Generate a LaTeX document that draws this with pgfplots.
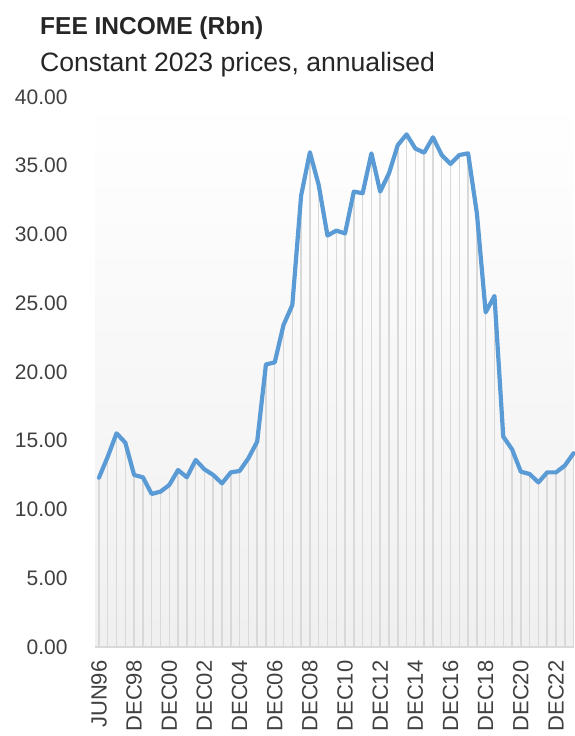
\documentclass[border=0pt]{standalone}
\usepackage{pgfplots}
\pgfplotsset{compat=1.18}
\usepackage{fontspec}
\setmainfont{Liberation Sans}
\definecolor{linecol}{HTML}{5B9BD5}
\definecolor{dropcol}{HTML}{D9D9D9}
\definecolor{txt}{HTML}{404040}
\definecolor{ttl}{HTML}{262626}
\pgfplotstableread{
i v
0 12.31
1 13.84
2 15.54
3 14.86
4 12.51
5 12.34
6 11.13
7 11.30
8 11.78
9 12.87
10 12.34
11 13.60
12 12.92
13 12.51
14 11.90
15 12.70
16 12.80
17 13.72
18 14.93
19 20.55
20 20.70
21 23.42
22 24.87
23 32.82
24 35.98
25 33.60
26 29.92
27 30.28
28 30.08
29 33.12
30 33.00
31 35.90
32 33.12
33 34.45
34 36.50
35 37.28
36 36.25
37 35.95
38 37.07
39 35.78
40 35.13
41 35.78
42 35.90
43 31.54
44 24.34
45 25.53
46 15.30
47 14.38
48 12.75
49 12.58
50 11.97
51 12.70
52 12.70
53 13.19
54 14.09
}\feeincome
\begin{document}
\begin{tikzpicture}[x=1pt,y=1pt]
\path[use as bounding box] (0,0) rectangle (574,736);
\node[anchor=base west, font=\fontsize{24.5}{28}\selectfont\bfseries, text=ttl, inner sep=0] at (40,701) {FEE INCOME (Rbn)};
\node[anchor=base west, font=\fontsize{26.6}{30}\selectfont, text=ttl, inner sep=0] at (40,664) {Constant 2023 prices, annualised};
\begin{axis}[
  at={(95pt,89pt)}, anchor=south west,
  scale only axis, width=479pt, height=550pt,
  xmin=-0.45, xmax=54.05, ymin=0, ymax=40,
  ytick={0,5,...,40},
  xtick={0,4,...,52},
  xticklabels={JUN96,DEC98,DEC00,DEC02,DEC04,DEC06,DEC08,DEC10,DEC12,DEC14,DEC16,DEC18,DEC20,DEC22},
  major tick length=0pt,
  axis x line*=bottom, axis y line*=left,
  separate axis lines,
  x axis line style={draw=dropcol, line width=1.5pt, -},
  y axis line style={draw=none},
  axis background/.style={shade, top color=white, bottom color=black!6},
  tick label style={font=\fontsize{21}{24}\selectfont, text=txt},
  /pgf/number format/fixed, /pgf/number format/fixed zerofill, /pgf/number format/precision=2, /pgf/number format/assume math mode=true,
  yticklabel style={xshift=-24pt},
  xticklabel style={rotate=90, anchor=east, xshift=-10pt, font=\fontsize{22}{24}\selectfont},
  clip=false,
]
\addplot[ycomb, draw=dropcol, line width=1.5pt, no markers] table[x=i,y=v] {\feeincome};
\addplot[draw=linecol, line width=4.2pt, line join=round, line cap=round, no markers] table[x=i,y=v] {\feeincome};
\end{axis}
\end{tikzpicture}
\end{document}
